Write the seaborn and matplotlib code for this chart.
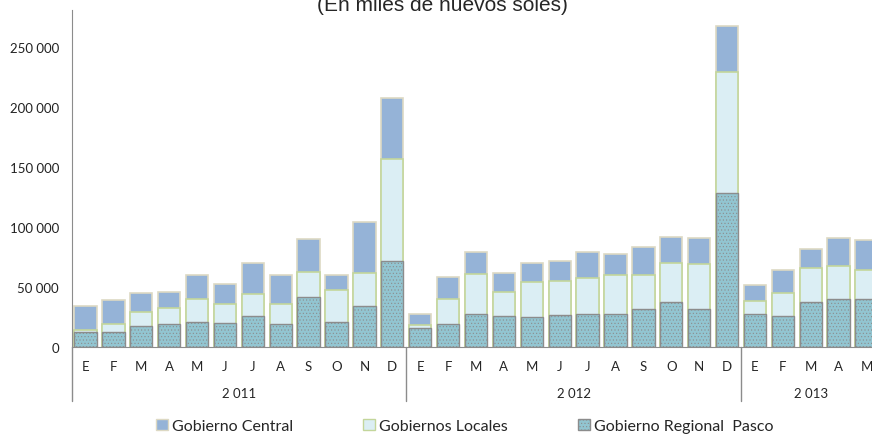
import pandas as pd
import seaborn as sns
import matplotlib.pyplot as plt
from matplotlib.patches import Patch

# Monthly values, thousands of nuevos soles
years = ['2 011'] * 12 + ['2 012'] * 12 + ['2 013'] * 5
months = list('EFMAMJJASOND') * 2 + list('EFMAM')

regional = [12.5, 12.5, 18, 19, 21, 20, 26, 19, 41.5, 21, 34, 72,
            16, 19.5, 28, 26, 25, 27, 28, 28, 32, 38, 32, 128.5,
            27.5, 26, 38, 40, 40]
locales = [1.5, 7, 11.5, 14, 19, 16, 18, 17, 21.5, 26.5, 28, 85,
           2.5, 21, 33, 20, 29.5, 28.5, 29.5, 32, 28, 32, 37, 101,
           11, 19.5, 28, 28, 24.5]
central = [20, 20, 15.5, 13, 20.5, 17, 26, 24.5, 27, 13, 42, 51,
           9, 18, 18, 15.5, 15.5, 16.5, 22, 17.5, 23.5, 22, 22, 38.5,
           13, 19, 16, 23, 25]

df = pd.DataFrame({'pos': range(len(months)), 'mes': months, 'anio': years,
                   'regional': regional, 'locales': locales, 'central': central})
df[['regional', 'locales', 'central']] *= 1000
df['reg_loc'] = df['regional'] + df['locales']
df['total'] = df['reg_loc'] + df['central']

c_central, e_central = '#95b3d7', '#ddd9c3'
c_locales, e_locales = '#dbeef4', '#c3d69b'
c_regional, e_regional = '#92c5d1', '#8c8c8c'

sns.set_style('white')
plt.rcParams['font.family'] = ['Lato', 'DejaVu Sans']
plt.rcParams['hatch.linewidth'] = 0.4

fig = plt.figure(figsize=(8.72, 4.35), dpi=100)
ax = fig.add_axes([71.5 / 872, 1 - 348.3 / 435, 809 / 872, 337.3 / 435])

# stacked bars drawn as cumulative layers
sns.barplot(data=df, x='pos', y='total', color=c_central, edgecolor=e_central,
            linewidth=1.2, width=0.8, saturation=1, ax=ax)
sns.barplot(data=df, x='pos', y='reg_loc', color=c_locales, edgecolor=e_locales,
            linewidth=1.2, width=0.8, saturation=1, ax=ax)
sns.barplot(data=df, x='pos', y='regional', color=c_regional, edgecolor=e_regional,
            linewidth=1.0, width=0.8, saturation=1, hatch='.....', ax=ax)

ax.set_xlim(-0.5, len(months) - 0.5)
ax.set_ylim(0, 281000)
ax.set_yticks(range(0, 250001, 50000))
ax.set_yticklabels([f'{v:,}'.replace(',', ' ') for v in range(0, 250001, 50000)],
                   fontsize=9.5, color='#222222')
ax.tick_params(axis='y', length=0, pad=9)
ax.set_xticks([])
ax.set_xlabel('')
ax.set_ylabel('')
for s in ['top', 'right']:
    ax.spines[s].set_visible(False)
ax.spines['left'].set_color('#8c8c8c')
ax.spines['bottom'].set_color('#8c8c8c')

trans = ax.get_xaxis_transform()
for p, m in zip(df['pos'], df['mes']):
    ax.text(p, -0.055, m, transform=trans, ha='center', va='center', fontsize=9.5)
for anio, grp in df.groupby('anio'):
    ax.text(grp['pos'].mean(), -0.135, anio, transform=trans, ha='center',
            va='center', fontsize=9.5)
for xb in [-0.5, 11.5, 23.5]:
    ax.plot([xb, xb], [0, -0.159], transform=trans, color='#8c8c8c',
            linewidth=1, clip_on=False)

fig.text(442 / 872, 1 - 11 / 435, '(En miles de nuevos soles)', ha='center',
         va='baseline', fontsize=15, family='Liberation Sans')

handles = [Patch(facecolor=c_central, edgecolor=e_central, label='Gobierno Central'),
           Patch(facecolor=c_locales, edgecolor=e_locales, label='Gobiernos Locales'),
           Patch(facecolor=c_regional, edgecolor=e_regional, hatch='.....',
                 label='Gobierno Regional  Pasco')]
fig.legend(handles=handles, loc='center', bbox_to_anchor=(465 / 872, 1 - 427 / 435),
           ncol=3, frameon=False, fontsize=11.5, handlelength=0.75, handleheight=0.75,
           handletextpad=0.25, columnspacing=4.4)

fig.savefig('out.png', dpi=100)
